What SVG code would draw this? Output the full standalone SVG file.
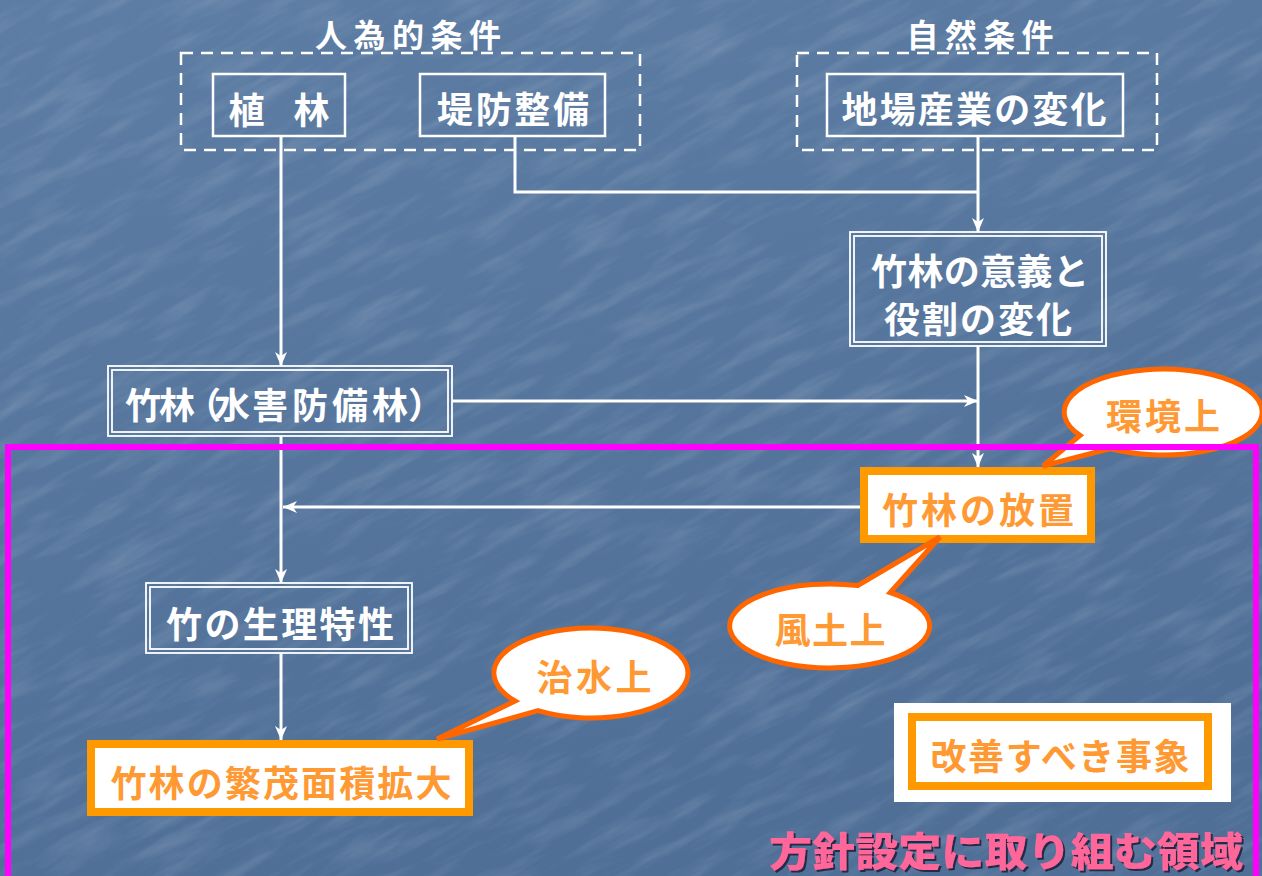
<svg xmlns="http://www.w3.org/2000/svg" width="1262" height="876" viewBox="0 0 1262 876">
<defs>
<linearGradient id="bg" x1="0" y1="0" x2="0.3" y2="1">
<stop offset="0" stop-color="#5d7da4"/>
<stop offset="1" stop-color="#4f6f97"/>
</linearGradient>
<filter id="tex" x="0" y="0" width="100%" height="100%">
<feTurbulence type="fractalNoise" baseFrequency="0.012 0.07" numOctaves="4" seed="7"/>
<feColorMatrix type="matrix" values="0 0 0 0 1  0 0 0 0 1  0 0 0 0 1  0 0 1.4 0 -0.62"/>
</filter>
<filter id="shadow" x="-5%" y="-20%" width="110%" height="140%">
<feDropShadow dx="2" dy="2" stdDeviation="0.6" flood-color="#1b2440" flood-opacity="0.9"/>
</filter>
<marker id="arr" markerUnits="userSpaceOnUse" markerWidth="16" markerHeight="14" refX="14" refY="6" orient="auto">
<path d="M0,0 L14,6 L0,12 L4,6 z" fill="#ffffff"/>
</marker>
<style>
text{font-family:"Noto Sans CJK JP","Noto Sans CJK SC",sans-serif;font-weight:bold;dominant-baseline:central;text-anchor:middle}
.w{fill:#ffffff;font-size:36px}
.t{fill:#ffffff;font-size:32px}
.o{fill:#ff9933;font-size:36px}
.box{fill:none;stroke:#ffffff;stroke-width:2.5}
.dbl{fill:none;stroke:#ffffff;stroke-width:1.8}
.dash{fill:none;stroke:#ffffff;stroke-width:2.5;stroke-dasharray:12 8}
.obox{fill:#ffffff;stroke:#ff9900;stroke-width:8}
.bub{fill:#ffffff;stroke:#ff6600;stroke-width:5;stroke-linejoin:miter}
.con{fill:none;stroke:#ffffff;stroke-width:3}
</style>
</defs>
<rect x="0" y="0" width="1262" height="876" fill="url(#bg)"/>
<g transform="rotate(-28 631 438)">
<rect x="-450" y="-450" width="2162" height="1776" filter="url(#tex)" opacity="0.2"/>
</g>

<g id="group-artificial">
<rect class="dash" x="181" y="53" width="459" height="97"/>
<text class="t" x="408" y="33" textLength="186" lengthAdjust="spacing">人為的条件</text>
</g>
<g id="group-natural">
<rect class="dash" x="797" y="53" width="360" height="97"/>
<text class="t" x="980" y="33" textLength="147" lengthAdjust="spacing">自然条件</text>
</g>

<g id="connectors">
<path class="con" d="M281,136 V366" marker-end="url(#arr)"/>
<path class="con" d="M515,136 V192 H978"/>
<path class="con" d="M978,136 V232" marker-end="url(#arr)"/>
<path class="con" d="M978,346 V467" marker-end="url(#arr)"/>
<path class="con" d="M452,401 H978" marker-end="url(#arr)"/>
<path class="con" d="M281,436 V583" marker-end="url(#arr)"/>
<path class="con" d="M860,507 H283" marker-end="url(#arr)"/>
<path class="con" d="M281,653 V740" marker-end="url(#arr)"/>
</g>

<g id="node-shokurin">
<rect class="box" x="213" y="74" width="132" height="62"/>
<text class="w" x="279" y="108" textLength="101" lengthAdjust="spacing">植　林</text>
</g>
<g id="node-teibou">
<rect class="box" x="420" y="74" width="185" height="62"/>
<text class="w" x="513" y="107" textLength="152" lengthAdjust="spacing">堤防整備</text>
</g>
<g id="node-jiba">
<rect class="box" x="827" y="74" width="296" height="62"/>
<text class="w" x="974" y="107" textLength="265" lengthAdjust="spacing">地場産業の変化</text>
</g>
<g id="node-igi">
<rect class="dbl" x="850" y="232" width="256" height="114"/>
<rect class="dbl" x="854" y="236" width="248" height="106"/>
<text class="w" x="980" y="269" textLength="218" lengthAdjust="spacing">竹林の意義と</text>
<text class="w" x="978" y="317" textLength="188" lengthAdjust="spacing">役割の変化</text>
</g>
<g id="node-suigai">
<rect class="dbl" x="108" y="366" width="344" height="70"/>
<rect class="dbl" x="112" y="370" width="336" height="62"/>
<text class="w" x="125 159 185 214 252 292 332 372 408" y="403" style="text-anchor:start">竹林（水害防備林）</text>
</g>
<g id="node-seiri">
<rect class="dbl" x="146" y="583" width="266" height="70"/>
<rect class="dbl" x="150" y="587" width="258" height="62"/>
<text class="w" x="280" y="622" textLength="228" lengthAdjust="spacing">竹の生理特性</text>
</g>
<g id="node-houchi">
<rect class="obox" x="864" y="471" width="227" height="68"/>
<text class="o" x="978" y="508" textLength="192" lengthAdjust="spacing">竹林の放置</text>
</g>
<g id="node-hanmo">
<rect class="obox" x="91" y="744" width="378" height="68"/>
<text class="o" x="281" y="781" textLength="341" lengthAdjust="spacing">竹林の繁茂面積拡大</text>
</g>

<g id="bubble-kankyo">
<path class="bub" d="M1110.5,448.5 L1043,466 L1080,435.4 A99 43 0 1 1 1110.5,448.5 Z"/>
<text class="o" x="1163" y="414" textLength="114" lengthAdjust="spacing">環境上</text>
</g>
<g id="bubble-fudo">
<path class="bub" d="M857.6,585.6 L940,537 L890.2,592.5 A100 42 0 1 1 857.6,585.6 Z"/>
<text class="o" x="830" y="628" textLength="111" lengthAdjust="spacing">風土上</text>
</g>
<g id="bubble-chisui">
<path class="bub" d="M538,710.7 L437,739 L515,701 A97 45 0 1 1 538,710.7 Z"/>
<text class="o" x="594" y="675" textLength="115" lengthAdjust="spacing">治水上</text>
</g>

<g id="legend">
<rect x="894" y="703" width="337" height="99" fill="#ffffff"/>
<rect class="obox" x="912" y="717" width="296" height="69"/>
<text class="o" x="1060" y="754" textLength="259" lengthAdjust="spacing">改善すべき事象</text>
</g>

<g id="region">
<rect x="8" y="447" width="1248" height="440" fill="none" stroke="#ff00ff" stroke-width="6"/>
<text x="1006" y="849" fill="#ff6699" font-size="40" textLength="474" lengthAdjust="spacingAndGlyphs" filter="url(#shadow)" style="font-weight:900">方針設定に取り組む領域</text>
</g>
</svg>
